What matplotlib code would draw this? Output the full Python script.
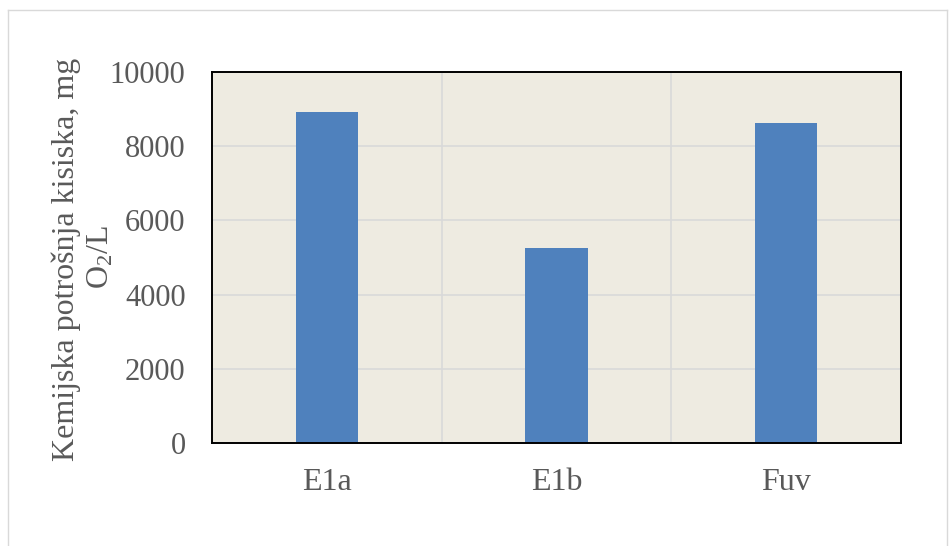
import matplotlib
matplotlib.use("Agg")
import matplotlib.pyplot as plt
from matplotlib.lines import Line2D

categories = ["E1a", "E1b", "Fuv"]
values = [8930, 5260, 8615]
yticks = [0, 2000, 4000, 6000, 8000, 10000]

plt.rcParams['font.family'] = ['Liberation Serif', 'DejaVu Serif']
plt.rcParams['mathtext.fontset'] = 'custom'
plt.rcParams['mathtext.rm'] = 'Liberation Serif'
plt.rcParams['mathtext.it'] = 'Liberation Serif:italic'
plt.rcParams['mathtext.bf'] = 'Liberation Serif:bold'

fig = plt.figure(figsize=(9.5, 5.46), dpi=100)
W, H = 950, 546
ax = fig.add_axes([212 / W, (H - 443) / H, 689 / W, 371 / H])
ax.set_facecolor("#EEEBE1")

x = list(range(len(categories)))
ax.bar(x, values, width=0.27, color="#4F81BD", zorder=3)

ax.set_xlim(-0.5, len(categories) - 0.5)
ax.set_ylim(0, 10000)
ax.set_yticks(yticks)
ax.set_yticklabels([str(v) for v in yticks])
ax.set_xticks(x)
ax.set_xticklabels(categories)
ax.set_xticks([0.5, 1.5], minor=True)

ax.grid(axis="y", which="major", color="#D9D9D9", linewidth=1.2, zorder=1)
ax.grid(axis="x", which="minor", color="#D9D9D9", linewidth=1.2, zorder=1)
ax.grid(axis="x", which="major", visible=False)

ax.tick_params(axis="both", which="both", length=0)
ax.tick_params(axis="y", labelsize=22, labelcolor="#595959", pad=19)
ax.tick_params(axis="x", labelsize=23, labelcolor="#595959", pad=18)

for s in ax.spines.values():
    s.set_color("black")
    s.set_linewidth(1.4)
    s.set_zorder(4)

fig.text(66 / W, 1 - 259 / H, "Kemijska potrošnja kisiska, mg", rotation=90,
         ha="center", va="center", fontsize=23, color="#595959")
fig.text(101 / W, 1 - 257 / H, r"O$_\mathrm{2}$/L", rotation=90,
         ha="center", va="center", fontsize=23, color="#595959")

# outer chart border
for xs, ys in [((8, 8), (10, 546)), ((8, 947), (10, 10)), ((947, 947), (10, 546))]:
    fig.add_artist(Line2D([a / W for a in xs], [1 - b / H for b in ys],
                          color="#D9D9D9", linewidth=1.0))

fig.savefig("out.png", dpi=100)
